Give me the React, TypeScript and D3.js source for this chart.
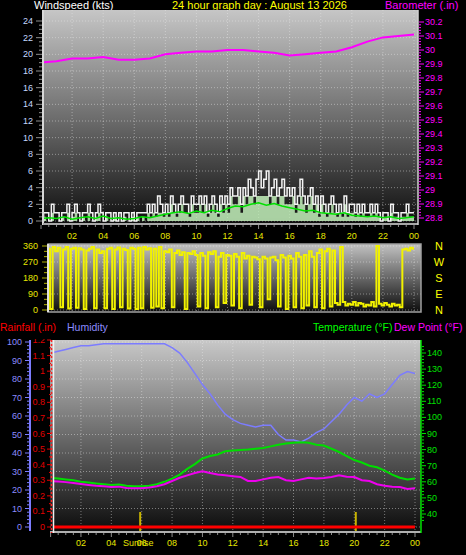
import React from 'react';
import * as d3 from 'd3';

const TITLE = '24 hour graph day : August 13 2026';
const HOUR_LABELS = ['02', '04', '06', '08', '10', '12', '14', '16', '18', '20', '22', '00'];
const HOUR_TICKS = [2, 4, 6, 8, 10, 12, 14, 16, 18, 20, 22, 24];
const WIND_TICKS = [0, 2, 4, 6, 8, 10, 12, 14, 16, 18, 20, 22, 24];
const BARO_TICKS = [28.8, 28.9, 29.0, 29.1, 29.2, 29.3, 29.4, 29.5, 29.6, 29.7, 29.8, 29.9, 30.0, 30.1, 30.2];
const DIR_TICKS = [0, 90, 180, 270, 360];
const COMPASS = ['N', 'W', 'S', 'E', 'N'];
const COMPASS_DEG = [360, 270, 180, 90, 0];
const HUM_TICKS = [0, 10, 20, 30, 40, 50, 60, 70, 80, 90, 100];
const RAIN_TICKS = [0, 0.1, 0.2, 0.3, 0.4, 0.5, 0.6, 0.7, 0.8, 0.9, 1.0, 1.1, 1.2];
const TEMP_TICKS = [40, 50, 60, 70, 80, 90, 100, 110, 120, 130, 140];

// 10-minute samples (00:00 .. 24:00)
const windGust = [
  0, 1, 1, 0, 2, 1, 1, 0, 1, 1, 2, 0, 1, 2, 1, 0, 1, 1, 2, 1, 0, 1, 2, 1,
  0, 1, 1, 0, 1, 0, 1, 0, 1, 1, 0, 1, 0, 1, 1, 1, 1, 2, 1, 2, 1, 3, 2, 1,
  2, 1, 3, 2, 1, 2, 3, 2, 2, 1, 3, 2, 2, 3, 2, 3, 1, 2, 3, 2, 1, 3, 2, 3,
  2, 4, 3, 3, 4, 2, 4, 3, 5, 4, 3, 5, 6, 4, 5, 6, 3, 4, 5, 3, 4, 5, 3, 4,
  3, 4, 2, 3, 5, 3, 2, 3, 4, 2, 3, 1, 3, 2, 1, 2, 3, 2, 1, 2, 1, 3, 1, 2,
  2, 1, 2, 1, 2, 1, 1, 2, 1, 2, 1, 0, 1, 1, 0, 2, 1, 1, 0, 1, 1, 2, 1, 1, 1,
];
const windSpeed = [
  0, 0.5, 0, 0, 1, 0, 0, 0, 0.5, 0, 1, 0, 0.5, 1, 0, 0, 0.5, 0, 1, 0, 0, 0.5, 1, 0,
  0, 0.5, 0, 0, 0.5, 0, 0, 0, 0.5, 0, 0, 0.5, 0, 0.5, 0, 0.5, 0, 1, 0.5, 1, 0.5, 1, 1, 0.5,
  1, 0.5, 2, 1, 0.5, 1, 2, 1, 1, 0.5, 2, 1, 1, 2, 1, 2, 0.5, 1, 2, 1, 0.5, 2, 1, 2,
  1, 3, 2, 2, 3, 1, 3, 2, 3, 3, 2, 3, 3, 3, 3, 3, 2, 3, 3, 2, 3, 3, 2, 2,
  2, 3, 1, 2, 3, 2, 1, 2, 3, 1, 2, 0.5, 2, 1, 0.5, 1, 2, 1, 0.5, 1, 0.5, 2, 0.5, 1,
  1, 0.5, 1, 0.5, 1, 0.5, 0.5, 1, 0.5, 1, 0.5, 0, 0.5, 0.5, 0, 1, 0.5, 0.5, 0, 0.5, 0.5, 1, 0.5, 0.5, 0.5,
];
const windDir = [
  340, 10, 350, 345, 5, 355, 330, 350, 15, 340, 355, 8, 345, 350, 12, 348, 340, 5, 335, 345, 355, 10, 340, 320,
  330, 10, 345, 350, 5, 340, 352, 15, 345, 338, 8, 350, 345, 5, 350, 10, 355, 340, 348, 12, 345, 20, 355, 10,
  330, 325, 340, 15, 320, 335, 310, 325, 5, 320, 315, 330, 310, 20, 320, 305, 10, 325, 315, 330, 15, 300, 320, 40,
  310, 305, 25, 315, 300, 10, 320, 290, 305, 30, 300, 295, 285, 15, 300, 290, 60, 295, 300, 280, 20, 310, 295, 5,
  305, 290, 15, 320, 300, 10, 310, 25, 330, 300, 15, 320, 340, 10, 330, 345, 20, 335, 40, 30, 355, 45, 25, 35,
  30, 45, 25, 40, 35, 20, 30, 25, 45, 20, 360, 35, 25, 40, 30, 20, 35, 25, 30, 15, 340, 345, 335, 350, 345,
];
// 30-minute samples
const windAvg = [
  0.3, 0.4, 0.3, 0.5, 0.2, 0.4, 0.5, 0.3, 0.6, 0.3, 0.4, 0.2, 0.3, 0.5, 0.4, 0.6, 0.8, 1.0, 1.1, 0.9, 1.2, 1.0, 1.3, 1.1, 1.5,
  1.8, 1.7, 2.0, 2.2, 1.9, 2.1, 1.8, 1.6, 1.4, 1.2, 1.3, 1.0, 0.9, 0.8, 1.0, 0.7, 0.6, 0.5, 0.6, 0.4, 0.5, 0.3, 0.4, 0.5,
];
const humidity = [
  94, 95, 96, 97, 98, 98, 98.5, 99, 99, 99, 99, 99, 99, 99, 99, 99, 97, 94, 89, 83, 77, 72, 66, 61, 58,
  56, 55, 54, 55, 55, 50, 47, 47, 46, 48, 51, 53, 57, 61, 66, 70, 68, 72, 70, 72, 77, 82, 84, 83,
];
const temperature = [
  62.5, 62, 61.5, 61, 60, 59.5, 59, 58.5, 58, 58.3, 57.5, 57.3, 57.3, 57.5, 58.5, 60, 62, 64.5, 68, 71, 74.5, 76, 77, 79, 79.5,
  79.8, 80, 80.5, 81, 82, 83, 83.8, 84.3, 84.5, 84.2, 83, 82.5, 80.5, 78.5, 76, 73.5, 72, 70, 69, 67, 64.5, 62.5, 61.5, 62,
];
const dewPoint = [
  60.5, 60.2, 59.8, 59.2, 58.6, 58, 57.5, 57.2, 56.8, 57, 56.2, 56, 56, 56.5, 57.2, 58.5, 60.5, 62.5, 64, 65.5, 66.5, 65.5, 64.5, 64, 63.5,
  63, 60.5, 60.5, 61.5, 62.5, 63, 61, 60.5, 61.5, 62.5, 62, 62.3, 63, 64, 63.2, 63, 61, 60.5, 58.5, 57.5, 57, 56.8, 55.5, 56,
];
// hourly samples
const baro = [
  29.91, 29.92, 29.94, 29.94, 29.95, 29.93, 29.93, 29.94, 29.97, 29.98, 29.99, 29.99, 30.0,
  30.0, 29.99, 29.98, 29.96, 29.97, 29.98, 29.99, 30.02, 30.06, 30.09, 30.1, 30.11,
];
const rainfall = [0, 0, 0, 0, 0, 0, 0, 0, 0, 0, 0, 0, 0, 0, 0, 0, 0, 0, 0, 0, 0, 0, 0, 0, 0];
const SUNRISE = 5.9;
const SUNSET = 20.1;

const FONT = 'Liberation Sans, Arial, sans-serif';

type P = [number, number];
const at = (arr: number[], step: number): P[] => arr.map((v, i) => [i * step, v]);

export default function App() {
  // panels
  const T = { x0: 43, x1: 418, y0: 10, y1: 224 };
  const M = { x0: 48, x1: 421, y0: 244, y1: 312 };
  const B = { x0: 50, x1: 421, y0: 340, y1: 533 };

  const xTop = d3.scaleLinear().domain([0, 24]).range([41, 414]);
  const xBot = d3.scaleLinear().domain([0, 24]).range([50.6, 415]);
  const yWind = d3.scaleLinear().domain([0, 24]).range([221, 21]);
  const yBaro = d3.scaleLinear().domain([28.8, 30.2]).range([218, 22]);
  const yDir = d3.scaleLinear().domain([0, 360]).range([310, 246]);
  const yHum = d3.scaleLinear().domain([0, 100]).range([527, 342]);
  const yRain = d3.scaleLinear().domain([0, 1.2]).range([527, 340]);
  const yTemp = d3.scaleLinear().domain([40, 140]).range([514, 353]);

  const lineTop = (y: d3.ScaleLinear<number, number>, curve: d3.CurveFactory = d3.curveLinear) =>
    d3.line<P>().x((d) => xTop(d[0])).y((d) => y(d[1])).curve(curve);
  const lineBot = (y: d3.ScaleLinear<number, number>) =>
    d3.line<P>().x((d) => xBot(d[0])).y((d) => y(d[1]));

  const speedArea = d3
    .area<P>()
    .x((d) => xTop(d[0]))
    .y0(yWind(0))
    .y1((d) => yWind(d[1]))
    .curve(d3.curveStepAfter)(at(windSpeed, 1 / 6)) as string;

  const fmtBaro = (v: number) => (Math.abs(v - Math.round(v)) < 1e-6 ? String(Math.round(v)) : v.toFixed(1));
  const fmtRain = (v: number) => (Math.abs(v - Math.round(v)) < 1e-6 ? String(Math.round(v)) : v.toFixed(1));

  const halfHours = d3.range(0, 24.01, 0.5);
  const minorWind = d3.range(0, 24.01, 0.5);
  const minorBaro = d3.range(28.8, 30.21, 0.02);
  const minorTemp = d3.range(36, 146, 2);
  const minorHum = d3.range(0, 101, 2);
  const minorRain = d3.range(0, 1.21, 0.05);

  const grid = 'rgba(235,235,235,0.45)';

  return (
    <svg
      width={466}
      height={555}
      style={{ position: 'absolute', left: 0, top: 0, background: '#000' }}
      fontFamily={FONT}
    >
      <defs>
        <linearGradient id="bgT" x1="0" y1="0" x2="0" y2="1">
          <stop offset="0" stopColor="#c6c6c6" />
          <stop offset="0.5" stopColor="#6e6e6e" />
          <stop offset="1" stopColor="#0e0e0e" />
        </linearGradient>
        <linearGradient id="bgM" x1="0" y1="0" x2="0" y2="1">
          <stop offset="0" stopColor="#c2c2c2" />
          <stop offset="1" stopColor="#0c0c0c" />
        </linearGradient>
        <linearGradient id="bgB" x1="0" y1="0" x2="0" y2="1">
          <stop offset="0" stopColor="#c8c8c8" />
          <stop offset="0.5" stopColor="#6a6a6a" />
          <stop offset="1" stopColor="#0a0a0a" />
        </linearGradient>
        <clipPath id="cT">
          <rect x={T.x0 + 1} y={T.y0} width={T.x1 - T.x0 - 1} height={T.y1 - T.y0} />
        </clipPath>
        <clipPath id="cM">
          <rect x={M.x0} y={M.y0} width={M.x1 - M.x0} height={M.y1 - M.y0} />
        </clipPath>
        <clipPath id="cB">
          <rect x={B.x0 + 3} y={B.y0} width={B.x1 - B.x0 - 3} height={B.y1 - B.y0} />
        </clipPath>
        <clipPath id="cRainLbl">
          <rect x={0} y={339} width={60} height={200} />
        </clipPath>
      </defs>

      {/* header */}
      <text x={34} y={9} fontSize={11} fill="#ffffff">Windspeed (kts)</text>
      <text x={172} y={9} fontSize={11} fill="#ffff00">{TITLE}</text>
      <text x={385} y={9} fontSize={11} fill="#ff00ff">Barometer (.in)</text>

      {/* ===== TOP PANEL ===== */}
      <rect x={T.x0} y={T.y0} width={T.x1 - T.x0} height={T.y1 - T.y0} fill="url(#bgT)" />
      {WIND_TICKS.map((v) => (
        <line key={'gw' + v} x1={T.x0} x2={T.x1} y1={yWind(v)} y2={yWind(v)} stroke={grid} strokeDasharray="1,2" />
      ))}
      {HOUR_TICKS.map((h) => (
        <line key={'gvt' + h} x1={xTop(h)} x2={xTop(h)} y1={T.y0} y2={T.y1} stroke={grid} strokeDasharray="1,2" />
      ))}
      <g clipPath="url(#cT)">
        <path d={speedArea} fill="#c4f2bc" fillOpacity={0.85} />
        <path d={lineTop(yWind, d3.curveStepAfter)(at(windGust, 1 / 6)) as string} fill="none" stroke="#f4f4f4" strokeWidth={1.5} />
        <path d={lineTop(yWind)(at(windAvg, 0.5)) as string} fill="none" stroke="#00e000" strokeWidth={1.5} />
        <path d={lineTop(yBaro)(at(baro, 1)) as string} fill="none" stroke="#ff00ff" strokeWidth={2} />
      </g>
      {/* frame */}
      <line x1={T.x0} x2={T.x0} y1={T.y0} y2={T.y1 + 1} stroke="#d8d8d8" strokeWidth={2} />
      <line x1={T.x0} x2={T.x1} y1={T.y1} y2={T.y1} stroke="#a8a8a8" strokeWidth={2} />
      <line x1={T.x1} x2={T.x1} y1={T.y0} y2={T.y1 + 1} stroke="#d0d0d0" strokeWidth={1.5} />
      {/* left wind axis */}
      {minorWind.map((v) => (
        <line key={'mw' + v} x1={WIND_TICKS.includes(v) ? 36 : 39} x2={42} y1={yWind(v)} y2={yWind(v)} stroke="#8c8c8c" />
      ))}
      {WIND_TICKS.map((v) => (
        <text key={'lw' + v} x={33} y={yWind(v) + 3} fontSize={9} fill="#c4d8ff" textAnchor="end">{v}</text>
      ))}
      {/* right baro axis */}
      {minorBaro.map((v, i) => (
        <line key={'mb' + i} x1={419} x2={i % 5 === 0 ? 424 : 421} y1={yBaro(v)} y2={yBaro(v)} stroke="#ff00ff" />
      ))}
      {BARO_TICKS.map((v) => (
        <text key={'lb' + v} x={425} y={yBaro(v) + 3} fontSize={9} fill="#ff00ff">{fmtBaro(v)}</text>
      ))}
      {/* x ticks */}
      {halfHours.map((h) => (
        <line key={'xt' + h} x1={xTop(h)} x2={xTop(h)} y1={T.y1 + 1} y2={T.y1 + (h % 2 === 0 ? 5 : 3)} stroke="#8c8c8c" />
      ))}
      {HOUR_TICKS.map((h, i) => (
        <text key={'xl' + h} x={xTop(h)} y={239} fontSize={9} fill="#e6e600" textAnchor="middle">{HOUR_LABELS[i]}</text>
      ))}

      {/* ===== MIDDLE PANEL ===== */}
      <rect x={M.x0} y={M.y0} width={M.x1 - M.x0} height={M.y1 - M.y0} fill="url(#bgM)" />
      {DIR_TICKS.map((v) => (
        <line key={'gd' + v} x1={M.x0} x2={M.x1} y1={yDir(v)} y2={yDir(v)} stroke={grid} strokeDasharray="1,2" />
      ))}
      {HOUR_TICKS.map((h) => (
        <line key={'gvm' + h} x1={xTop(h)} x2={xTop(h)} y1={M.y0} y2={M.y1} stroke={grid} strokeDasharray="1,2" />
      ))}
      <g clipPath="url(#cM)">
        <path d={lineTop(yDir, d3.curveStep)(at(windDir, 1 / 6)) as string} fill="none" stroke="#f2f200" strokeWidth={2} />
      </g>
      <rect x={M.x0} y={M.y0} width={M.x1 - M.x0} height={M.y1 - M.y0} fill="none" stroke="#a0a0a0" strokeWidth={1.5} />
      <line x1={M.x0} x2={M.x0} y1={M.y0} y2={M.y1} stroke="#e0e0e0" strokeWidth={2} />
      {d3.range(0, 361, 30).map((v) => (
        <line key={'md' + v} x1={v % 90 === 0 ? 42 : 44} x2={47} y1={yDir(v)} y2={yDir(v)} stroke="#b0b000" />
      ))}
      {DIR_TICKS.map((v) => (
        <text key={'ld' + v} x={38} y={yDir(v) + 3} fontSize={9} fill="#e6e600" textAnchor="end">{v}</text>
      ))}
      {COMPASS.map((c, i) => (
        <text key={'cp' + i} x={439} y={yDir(COMPASS_DEG[i]) + 4} fontSize={11} fill="#ffff00" textAnchor="middle">{c}</text>
      ))}

      {/* ===== BOTTOM PANEL ===== */}
      <text x={0} y={331} fontSize={10.5} fill="#ff0000">Rainfall (.in)</text>
      <text x={67} y={331} fontSize={10.5} fill="#8c8cff">Humidity</text>
      <text x={313} y={331} fontSize={10.5} fill="#00ff00">Temperature (°F)</text>
      <text x={394} y={331} fontSize={10.5} fill="#ff00ff">Dew Point (°F)</text>

      <rect x={B.x0} y={B.y0} width={B.x1 - B.x0} height={B.y1 - B.y0} fill="url(#bgB)" />
      {HUM_TICKS.map((v) => (
        <line key={'gh' + v} x1={B.x0} x2={B.x1} y1={yHum(v)} y2={yHum(v)} stroke={grid} strokeDasharray="1,2" />
      ))}
      {HOUR_TICKS.map((h) => (
        <line key={'gvb' + h} x1={xBot(h)} x2={xBot(h)} y1={B.y0} y2={B.y1} stroke={grid} strokeDasharray="1,2" />
      ))}
      <g clipPath="url(#cB)">
        <line x1={xBot(SUNRISE)} x2={xBot(SUNRISE)} y1={512} y2={B.y1} stroke="#c8b400" strokeWidth={2} />
        <line x1={xBot(SUNSET)} x2={xBot(SUNSET)} y1={512} y2={B.y1} stroke="#c8b400" strokeWidth={2} />
        <path d={lineBot(yHum)(at(humidity, 0.5)) as string} fill="none" stroke="#7c7cff" strokeWidth={1.5} />
        <path d={lineBot(yTemp)(at(temperature, 0.5)) as string} fill="none" stroke="#00dd00" strokeWidth={2} />
        <path d={lineBot(yTemp)(at(dewPoint, 0.5)) as string} fill="none" stroke="#ee00ee" strokeWidth={2} />
        <path d={lineBot(yRain)(at(rainfall, 1)) as string} fill="none" stroke="#ff0000" strokeWidth={3} />
      </g>
      {/* frame */}
      <line x1={B.x0} x2={B.x1} y1={B.y1 - 1} y2={B.y1 - 1} stroke="#b0b0b0" strokeWidth={2} />
      <line x1={53.5} x2={53.5} y1={B.y0} y2={B.y1} stroke="#f0f0f0" strokeWidth={1.5} />
      <line x1={51.5} x2={51.5} y1={B.y0} y2={B.y1} stroke="#ff2020" strokeWidth={1.5} strokeDasharray="2,2" />
      <line x1={B.x1} x2={B.x1} y1={B.y0} y2={B.y1} stroke="#00e000" strokeWidth={1.5} />
      {/* humidity axis */}
      <line x1={30} x2={30} y1={340} y2={531} stroke="#7c7cff" strokeWidth={2} />
      {minorHum.map((v) => (
        <line key={'mh' + v} x1={v % 10 === 0 ? 25 : 27} x2={29} y1={yHum(v)} y2={yHum(v)} stroke="#7c7cff" />
      ))}
      {HUM_TICKS.map((v) => (
        <text key={'lh' + v} x={22} y={yHum(v) + 3} fontSize={9} fill="#8c8cff" textAnchor="end">{v}</text>
      ))}
      {/* rain axis */}
      {minorRain.map((v, i) => (
        <line key={'mr' + i} x1={i % 2 === 0 ? 47 : 49} x2={51} y1={yRain(v)} y2={yRain(v)} stroke="#e00000" />
      ))}
      <g clipPath="url(#cRainLbl)">
        {RAIN_TICKS.map((v) => (
          <text key={'lr' + v} x={45} y={yRain(v) + 3} fontSize={9} fill="#e00000" textAnchor="end">{fmtRain(v)}</text>
        ))}
      </g>
      {/* temperature axis */}
      {minorTemp.map((v) => (
        <line key={'mt' + v} x1={422} x2={v % 10 === 0 ? 426 : 424} y1={yTemp(v)} y2={yTemp(v)} stroke="#00e000" />
      ))}
      {TEMP_TICKS.map((v) => (
        <text key={'lt' + v} x={427} y={yTemp(v) + 3} fontSize={9} fill="#00e000">{v}</text>
      ))}
      {/* x ticks */}
      {halfHours.map((h) => (
        <line key={'xb' + h} x1={xBot(h)} x2={xBot(h)} y1={B.y1} y2={B.y1 + (h % 2 === 0 ? 4 : 2)} stroke="#8c8c8c" />
      ))}
      {HOUR_TICKS.map((h, i) => (
        <text key={'xbl' + h} x={xBot(h)} y={546} fontSize={9} fill="#e6e600" textAnchor="middle">{HOUR_LABELS[i]}</text>
      ))}
      <text x={xBot(SUNRISE) - 2} y={546} fontSize={9} fill="#e6e600" textAnchor="middle">Sunrise</text>
    </svg>
  );
}
